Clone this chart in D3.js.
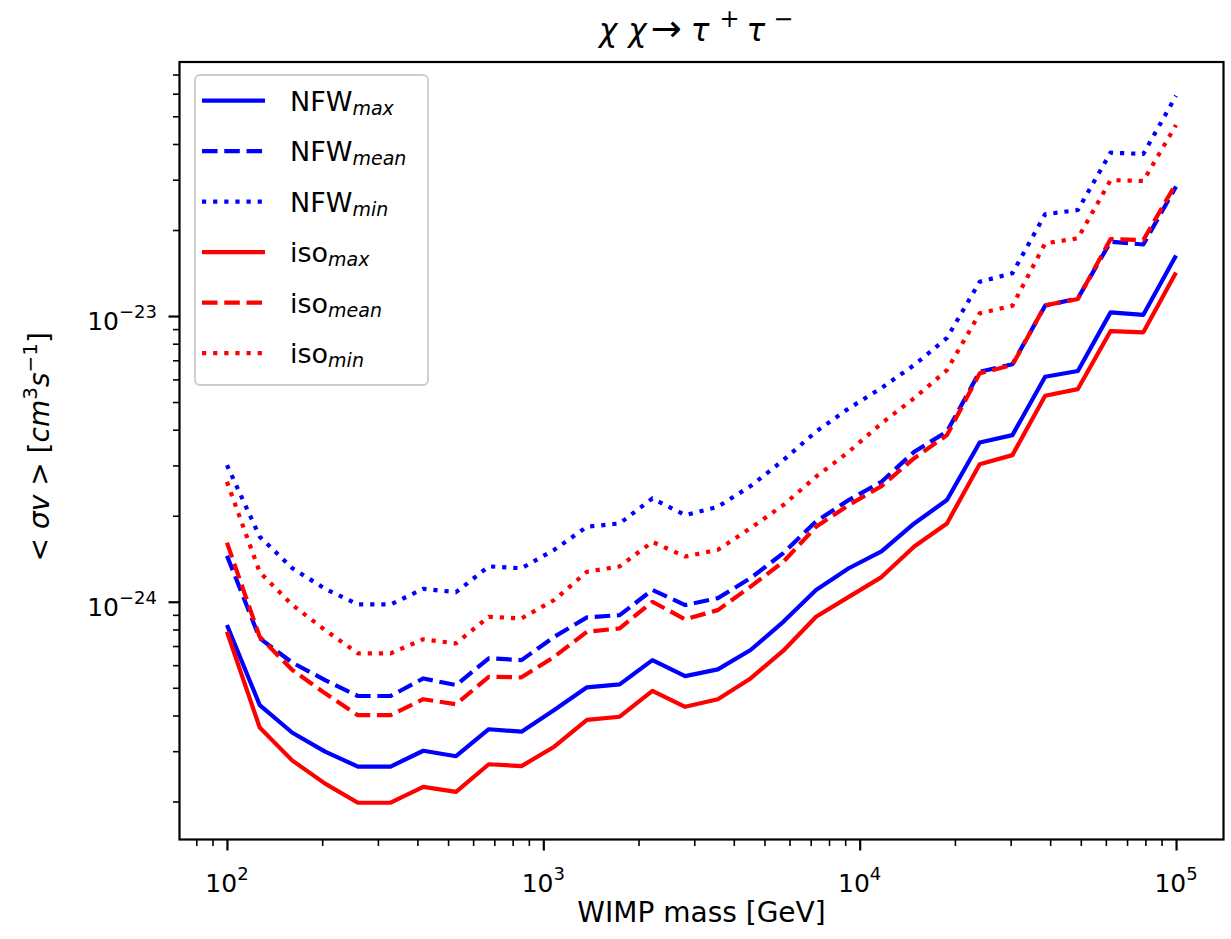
<!DOCTYPE html>
<html><head><meta charset="utf-8">
<script src="https://cdn.jsdelivr.net/npm/d3@7"></script>
<style>
body{margin:0;background:#fff;}
svg{display:block;font-family:"DejaVu Sans",sans-serif;}
</style></head><body>
<svg id="chart" width="1231" height="939"></svg>
<script>
// WIMP masses [GeV] (30 log-spaced points from 1e2 to 1e5)
const masses = [100, 126.9, 161.0, 204.3, 259.3, 329.0, 417.5, 529.8, 672.3, 853.2,
  1082.6, 1373.8, 1743.3, 2212.2, 2807.2, 3562.2, 4520.4, 5736.2, 7278.9, 9236.7,
  11721, 14874, 18874, 23950, 30392, 38566, 48939, 62102, 78805, 100000];

const NFW_max = [8.29e-25, 4.35e-25, 3.48e-25, 2.99e-25, 2.65e-25, 2.65e-25, 3.01e-25, 2.88e-25, 3.58e-25, 3.51e-25,
  4.18e-25, 5.02e-25, 5.14e-25, 6.25e-25, 5.49e-25, 5.80e-25, 6.78e-25, 8.51e-25, 1.10e-24, 1.31e-24,
  1.50e-24, 1.88e-24, 2.27e-24, 3.61e-24, 3.83e-24, 6.13e-24, 6.42e-24, 1.03e-23, 1.01e-23, 1.63e-23];
const NFW_mean = [1.45e-24, 7.45e-25, 6.12e-25, 5.32e-25, 4.68e-25, 4.68e-25, 5.39e-25, 5.11e-25, 6.34e-25, 6.25e-25,
  7.54e-25, 8.82e-25, 8.98e-25, 1.10e-24, 9.74e-25, 1.03e-24, 1.21e-24, 1.48e-24, 1.91e-24, 2.27e-24,
  2.63e-24, 3.35e-24, 3.94e-24, 6.38e-24, 6.78e-24, 1.087e-23, 1.153e-23, 1.82e-23, 1.78e-23, 2.84e-23];
const NFW_min = [3.01e-24, 1.69e-24, 1.31e-24, 1.11e-24, 9.79e-25, 9.79e-25, 1.11e-24, 1.08e-24, 1.33e-24, 1.31e-24,
  1.52e-24, 1.83e-24, 1.88e-24, 2.30e-24, 2.01e-24, 2.15e-24, 2.54e-24, 3.13e-24, 3.94e-24, 4.75e-24,
  5.60e-24, 6.74e-24, 8.38e-24, 1.318e-23, 1.411e-23, 2.27e-23, 2.35e-23, 3.73e-23, 3.69e-23, 5.90e-23];
const iso_max = [7.85e-25, 3.63e-25, 2.78e-25, 2.31e-25, 1.98e-25, 1.98e-25, 2.25e-25, 2.16e-25, 2.70e-25, 2.66e-25,
  3.11e-25, 3.86e-25, 3.96e-25, 4.88e-25, 4.29e-25, 4.56e-25, 5.39e-25, 6.74e-25, 8.86e-25, 1.04e-24,
  1.22e-24, 1.56e-24, 1.88e-24, 3.03e-24, 3.26e-24, 5.26e-24, 5.55e-24, 8.86e-24, 8.77e-24, 1.42e-23];
const iso_mean = [1.61e-24, 7.54e-25, 5.77e-25, 4.78e-25, 4.01e-25, 4.01e-25, 4.56e-25, 4.38e-25, 5.46e-25, 5.44e-25,
  6.42e-25, 7.85e-25, 8.07e-25, 1.00e-24, 8.68e-25, 9.35e-25, 1.13e-24, 1.38e-24, 1.83e-24, 2.18e-24,
  2.54e-24, 3.18e-24, 3.83e-24, 6.30e-24, 6.74e-24, 1.09e-23, 1.147e-23, 1.86e-23, 1.845e-23, 2.91e-23];
const iso_min = [2.63e-24, 1.27e-24, 9.74e-25, 7.96e-25, 6.60e-25, 6.60e-25, 7.39e-25, 7.15e-25, 8.86e-25, 8.75e-25,
  1.014e-24, 1.274e-24, 1.33e-24, 1.62e-24, 1.44e-24, 1.52e-24, 1.81e-24, 2.18e-24, 2.74e-24, 3.35e-24,
  4.21e-24, 5.16e-24, 6.47e-24, 1.022e-23, 1.087e-23, 1.796e-23, 1.871e-23, 2.99e-23, 2.97e-23, 4.66e-23];

const seriesNames = ["NFW", "NFW", "NFW", "iso", "iso", "iso"];
const seriesSubs = ["max", "mean", "min", "max", "mean", "min"];
const seriesValues = [NFW_max, NFW_mean, NFW_min, iso_max, iso_mean, iso_min];
const seriesColors = ["#0000ff", "#0000ff", "#0000ff", "#ff0000", "#ff0000", "#ff0000"];
const seriesStyles = ["solid", "dashed", "dotted", "solid", "dashed", "dotted"];

const xMajor = [1e2, 1e3, 1e4, 1e5];
const xMajorExp = ["2", "3", "4", "5"];
const yMajor = [1e-24, 1e-23];
const yMajorExp = ["\u221224", "\u221223"];

// title glyphs: [text, italic, superscript]
const titleParts = [["\u03c7", true, false], ["\u03c7", true, false], ["\u2192", false, false],
  ["\u03c4", true, false], ["+", false, true], ["\u03c4", true, false], ["\u2212", false, true]];

const W = 1231, H = 939;
const L = 179.5, R = 1223.5, T = 62, B = 839.5;
const LW = 4.2;
const dashFor = s => s === "dashed" ? `${3.7*LW},${1.6*LW}` : s === "dotted" ? `${1*LW},${1.65*LW}` : null;

const svg = d3.select("#chart");
svg.append("rect").attr("width", W).attr("height", H).attr("fill", "#fff");

const x = d3.scaleLog().domain([Math.pow(10, 1.85), Math.pow(10, 5.15)]).range([L, R]);
const y = d3.scaleLog().domain([Math.pow(10, -24.832), Math.pow(10, -22.111)]).range([B, T]);

// minor ticks
const xMinor = [], yMinor = [];
for (let e = 1; e <= 5; e++) for (let m = 2; m <= 9; m++) {
  const v = m * Math.pow(10, e);
  if (v > x.domain()[0] && v < x.domain()[1]) xMinor.push(v);
}
for (let e = -26; e <= -22; e++) for (let m = 2; m <= 9; m++) {
  const v = m * Math.pow(10, e);
  if (v > y.domain()[0] && v < y.domain()[1]) yMinor.push(v);
}

// lines
const clipId = "plotclip";
svg.append("clipPath").attr("id", clipId).append("rect")
  .attr("x", L).attr("y", T).attr("width", R - L).attr("height", B - T);
const line = d3.line().x(d => x(d[0])).y(d => y(d[1]));
const gLines = svg.append("g").attr("clip-path", `url(#${clipId})`);
seriesValues.forEach((vals, i) => {
  const pts = masses.map((m, k) => [m, vals[k]]);
  gLines.append("path").datum(pts)
    .attr("d", line)
    .attr("fill", "none")
    .attr("stroke", seriesColors[i])
    .attr("stroke-width", LW)
    .attr("stroke-linejoin", "round")
    .attr("stroke-dasharray", dashFor(seriesStyles[i]));
});

// axes ticks
function tickAxis(axisGen, values, size, width, transform) {
  const g = svg.append("g").attr("transform", transform);
  g.call(axisGen.tickValues(values).tickSize(size).tickFormat(""));
  g.select(".domain").remove();
  g.selectAll(".tick line").attr("stroke", "#000").attr("stroke-width", width);
  return g;
}
tickAxis(d3.axisBottom(x), xMinor, 6.5, 1.6, `translate(0,${B})`);
tickAxis(d3.axisBottom(x), xMajor, 11, 2.2, `translate(0,${B})`);
tickAxis(d3.axisLeft(y), yMinor, 6.5, 1.6, `translate(${L},0)`);
tickAxis(d3.axisLeft(y), yMajor, 11, 2.2, `translate(${L},0)`);

// frame
svg.append("rect").attr("x", L).attr("y", T).attr("width", R - L).attr("height", B - T)
  .attr("fill", "none").attr("stroke", "#000").attr("stroke-width", 2.2);

// tick labels
xMajor.forEach((v, i) => {
  const t = svg.append("text").attr("x", x(v)).attr("y", 892)
    .attr("text-anchor", "middle").attr("font-size", 25).attr("fill", "#000");
  t.append("tspan").text("10");
  t.append("tspan").attr("dy", -12).attr("font-size", 18).text(xMajorExp[i]);
});
yMajor.forEach((v, i) => {
  const t = svg.append("text").attr("x", 157).attr("y", y(v) + 14)
    .attr("text-anchor", "end").attr("font-size", 25).attr("fill", "#000");
  t.append("tspan").text("10");
  t.append("tspan").attr("dy", -12).attr("font-size", 18).text(yMajorExp[i]);
});

// axis labels
svg.append("text").attr("x", (L + R) / 2).attr("y", 922).attr("text-anchor", "middle")
  .attr("font-size", 28).attr("fill", "#000").text("WIMP mass [GeV]");

const yl = svg.append("text").attr("transform", `translate(49,${(T + B) / 2 - 4}) rotate(-90)`)
  .attr("text-anchor", "middle").attr("font-size", 28).attr("fill", "#000");
yl.append("tspan").text("< ");
yl.append("tspan").attr("font-style", "italic").text("\u03c3v");
yl.append("tspan").text(" > [");
yl.append("tspan").attr("font-style", "italic").text("cm");
yl.append("tspan").attr("dy", -12).attr("font-size", 20).text("3");
yl.append("tspan").attr("dy", 12).attr("font-style", "italic").text("s");
yl.append("tspan").attr("dy", -12).attr("font-size", 20).text("\u22121");
yl.append("tspan").attr("dy", 12).text("]");

// title: glyphs laid out with matplotlib-like math spacing
const tg = svg.append("g");
const titleGap = [0, 11, 4, 9, 10, 7, 8];
const titleSize = [31, 31, 37, 31, 24, 31, 24];
let tx = 599;
titleParts.forEach((p, i) => {
  tx += titleGap[i];
  const t = tg.append("text").attr("x", tx).attr("y", p[2] ? 27 : 41)
    .attr("font-size", titleSize[i]).attr("fill", "#000")
    .attr("font-style", p[1] ? "italic" : "normal").text(p[0]);
  tx += t.node().getComputedTextLength();
});

// legend
const lg = svg.append("g");
lg.append("rect").attr("x", 195).attr("y", 75).attr("width", 233).attr("height", 310)
  .attr("rx", 5).attr("fill", "#fff").attr("fill-opacity", 0.8)
  .attr("stroke", "#cccccc").attr("stroke-width", 1.8);
seriesNames.forEach((n, i) => {
  const ly = 100.7 + i * 50.5;
  lg.append("line").attr("x1", 202).attr("x2", 265).attr("y1", ly).attr("y2", ly)
    .attr("stroke", seriesColors[i]).attr("stroke-width", LW)
    .attr("stroke-dasharray", dashFor(seriesStyles[i]));
  const t = lg.append("text").attr("x", 290).attr("y", ly + 10).attr("font-size", 27).attr("fill", "#000");
  t.append("tspan").text(n);
  t.append("tspan").attr("dy", 4).attr("font-size", 19).attr("font-style", "italic").text(seriesSubs[i]);
});
</script>
</body></html>
